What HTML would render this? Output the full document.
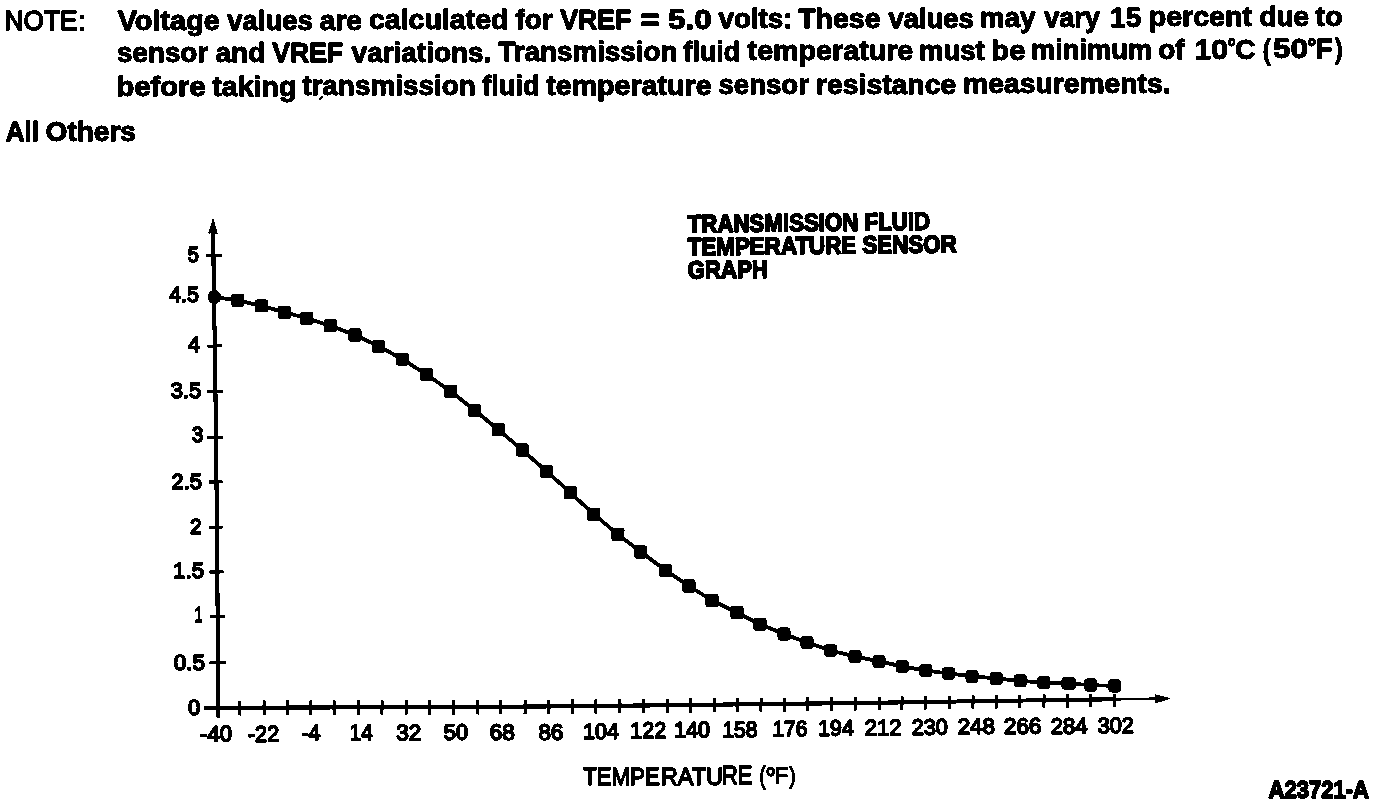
<!DOCTYPE html>
<html lang="en"><head><meta charset="utf-8"><title>Transmission Fluid Temperature Sensor Graph</title>
<style>html,body{margin:0;padding:0;background:#fff}body{width:1376px;height:806px;overflow:hidden}svg{display:block}text{font-family:"Liberation Sans",sans-serif;fill:#000;stroke:#000;stroke-linejoin:round}.b{font-weight:bold}</style></head><body>
<svg width="1376" height="806" viewBox="0 0 1376 806">
<defs><filter id="bw" x="0" y="0" width="1376" height="806" filterUnits="userSpaceOnUse" color-interpolation-filters="sRGB"><feComponentTransfer><feFuncR type="discrete" tableValues="0 0 0 1 1"/><feFuncG type="discrete" tableValues="0 0 0 1 1"/><feFuncB type="discrete" tableValues="0 0 0 1 1"/></feComponentTransfer></filter></defs>
<g filter="url(#bw)">
<rect width="1376" height="806" fill="#fff"/>
<text stroke-width="1.3"><tspan x="4.50" y="30.35" font-size="28.55" textLength="73.03" lengthAdjust="spacingAndGlyphs">NOTE</tspan><tspan x="78.13" y="30.35" font-size="25.85" textLength="8.03" lengthAdjust="spacingAndGlyphs">:</tspan></text>
<text class="b" stroke-width="1.0"><tspan x="117.72" y="29.99" font-size="28.12" textLength="102.10" lengthAdjust="spacingAndGlyphs">Voltage</tspan> <tspan x="227.35" y="29.78" font-size="28.12" textLength="85.35" lengthAdjust="spacingAndGlyphs">values</tspan> <tspan x="319.76" y="29.66" font-size="28.12" textLength="42.27" lengthAdjust="spacingAndGlyphs">are</tspan> <tspan x="368.97" y="29.48" font-size="28.12" textLength="139.52" lengthAdjust="spacingAndGlyphs">calculated</tspan> <tspan x="515.58" y="29.20" font-size="28.12" textLength="37.19" lengthAdjust="spacingAndGlyphs">for</tspan> <tspan x="560.21" y="29.02" font-size="28.12" textLength="71.06" lengthAdjust="spacingAndGlyphs">VREF</tspan> <tspan x="640.26" y="28.80" font-size="28.12" textLength="19.55" lengthAdjust="spacingAndGlyphs">=</tspan> <tspan x="668.12" y="28.64" font-size="28.12" textLength="43.69" lengthAdjust="spacingAndGlyphs">5.0</tspan> <tspan x="718.60" y="28.38" font-size="28.12" textLength="73.84" lengthAdjust="spacingAndGlyphs">volts:</tspan> <tspan x="798.22" y="28.04" font-size="28.12" textLength="82.28" lengthAdjust="spacingAndGlyphs">These</tspan> <tspan x="888.45" y="27.66" font-size="28.12" textLength="85.35" lengthAdjust="spacingAndGlyphs">values</tspan> <tspan x="979.68" y="27.31" font-size="28.12" textLength="55.75" lengthAdjust="spacingAndGlyphs">may</tspan> <tspan x="1044.25" y="27.01" font-size="28.12" textLength="55.58" lengthAdjust="spacingAndGlyphs">vary</tspan> <tspan x="1110.08" y="26.76" font-size="28.12" textLength="31.19" lengthAdjust="spacingAndGlyphs">15</tspan> <tspan x="1148.75" y="26.41" font-size="28.12" textLength="103.20" lengthAdjust="spacingAndGlyphs">percent</tspan> <tspan x="1259.38" y="26.03" font-size="28.12" textLength="49.58" lengthAdjust="spacingAndGlyphs">due</tspan> <tspan x="1315.47" y="25.82" font-size="28.12" textLength="27.23" lengthAdjust="spacingAndGlyphs">to</tspan></text>
<text class="b" stroke-width="1.0"><tspan x="117.12" y="62.42" font-size="28.12" textLength="91.03" lengthAdjust="spacingAndGlyphs">sensor</tspan> <tspan x="215.41" y="62.26" font-size="28.12" textLength="49.90" lengthAdjust="spacingAndGlyphs">and</tspan> <tspan x="272.21" y="62.13" font-size="28.12" textLength="70.91" lengthAdjust="spacingAndGlyphs">VREF</tspan> <tspan x="351.61" y="61.94" font-size="28.12" textLength="139.77" lengthAdjust="spacingAndGlyphs">variations.</tspan> <tspan x="498.22" y="61.46" font-size="28.12" textLength="179.26" lengthAdjust="spacingAndGlyphs">Transmission</tspan> <tspan x="683.47" y="60.98" font-size="28.12" textLength="56.81" lengthAdjust="spacingAndGlyphs">fluid</tspan> <tspan x="747.62" y="60.49" font-size="28.12" textLength="165.62" lengthAdjust="spacingAndGlyphs">temperature</tspan> <tspan x="918.95" y="59.99" font-size="28.12" textLength="65.70" lengthAdjust="spacingAndGlyphs">must</tspan> <tspan x="991.38" y="59.73" font-size="28.12" textLength="33.93" lengthAdjust="spacingAndGlyphs">be</tspan> <tspan x="1031.01" y="59.34" font-size="28.12" textLength="121.01" lengthAdjust="spacingAndGlyphs">minimum</tspan> <tspan x="1158.28" y="58.97" font-size="28.12" textLength="26.29" lengthAdjust="spacingAndGlyphs">of</tspan> <tspan x="1194.58" y="58.78" font-size="28.12" textLength="33.35" lengthAdjust="spacingAndGlyphs">10</tspan><tspan x="1227.40" y="55.36" font-size="23.55" textLength="8.40" lengthAdjust="spacingAndGlyphs">°</tspan><tspan x="1235.28" y="58.63" font-size="28.12" textLength="20.24" lengthAdjust="spacingAndGlyphs">C</tspan> <tspan x="1262.63" y="58.53" font-size="28.12" textLength="7.92" lengthAdjust="spacingAndGlyphs">(</tspan><tspan x="1273.02" y="58.42" font-size="28.12" textLength="34.96" lengthAdjust="spacingAndGlyphs">50</tspan><tspan x="1307.36" y="54.98" font-size="23.55" textLength="9.08" lengthAdjust="spacingAndGlyphs">°</tspan><tspan x="1315.79" y="58.26" font-size="28.12" textLength="16.91" lengthAdjust="spacingAndGlyphs">F</tspan><tspan x="1334.90" y="58.20" font-size="28.12" textLength="7.70" lengthAdjust="spacingAndGlyphs">)</tspan></text>
<text class="b" stroke-width="1.0"><tspan x="116.62" y="95.91" font-size="28.12" textLength="89.01" lengthAdjust="spacingAndGlyphs">before</tspan> <tspan x="212.22" y="95.71" font-size="28.12" textLength="84.23" lengthAdjust="spacingAndGlyphs">taking</tspan> <tspan x="302.22" y="95.47" font-size="28.12" textLength="173.54" lengthAdjust="spacingAndGlyphs">transmission</tspan> <tspan x="482.18" y="95.17" font-size="28.12" textLength="57.62" lengthAdjust="spacingAndGlyphs">fluid</tspan> <tspan x="546.22" y="94.79" font-size="28.12" textLength="165.37" lengthAdjust="spacingAndGlyphs">temperature</tspan> <tspan x="718.53" y="94.24" font-size="28.12" textLength="90.38" lengthAdjust="spacingAndGlyphs">sensor</tspan> <tspan x="816.06" y="93.74" font-size="28.12" textLength="140.11" lengthAdjust="spacingAndGlyphs">resistance</tspan> <tspan x="963.06" y="92.94" font-size="28.12" textLength="207.58" lengthAdjust="spacingAndGlyphs">measurements.</tspan></text>
<text class="b" stroke-width="1.0"><tspan x="5.81" y="140.50" font-size="28.55" textLength="33.23" lengthAdjust="spacingAndGlyphs">All</tspan> <tspan x="45.57" y="140.50" font-size="28.55" textLength="90.40" lengthAdjust="spacingAndGlyphs">Others</tspan></text>
<path d="M319.4 99.6 L322.6 96.6" stroke="#000" stroke-width="1.5" stroke-linecap="round" fill="none"/>
<text class="b" transform="translate(687.75 232.40) rotate(-0.65) scale(0.8990 1)" font-size="24.78" stroke-width="1.6">TRANSMISSION FLUID</text>
<text class="b" transform="translate(687.76 255.30) rotate(-0.65) scale(0.9133 1)" font-size="24.49" stroke-width="1.6">TEMPERATURE SENSOR</text>
<text class="b" transform="translate(687.83 278.50) rotate(-0.65) scale(0.8959 1)" font-size="24.78" stroke-width="1.6">GRAPH</text>
<text stroke-width="1.3"><tspan x="583.25" y="785.05" font-size="24.35" textLength="76.45" lengthAdjust="spacingAndGlyphs">TEMPE</tspan><tspan x="660.63" y="784.65" font-size="24.64" textLength="62.48" lengthAdjust="spacingAndGlyphs">RATU</tspan><tspan x="721.92" y="784.15" font-size="25.07" textLength="30.38" lengthAdjust="spacingAndGlyphs">RE</tspan> <tspan x="759.61" y="783.95" font-size="24.20" textLength="5.96" lengthAdjust="spacingAndGlyphs">(</tspan><tspan x="765.15" y="788.10" font-size="30.36" textLength="10.90" lengthAdjust="spacingAndGlyphs">°</tspan><tspan x="774.78" y="783.35" font-size="22.90" textLength="13.29" lengthAdjust="spacingAndGlyphs">F</tspan><tspan x="789.55" y="782.70" font-size="22.14" textLength="6.06" lengthAdjust="spacingAndGlyphs">)</tspan></text>
<text class="b" transform="translate(1268.59 798.20) scale(0.9257 1)" font-size="23.77" stroke-width="1.6">A23721-A</text>
<g stroke="#000" fill="none">
<path d="M213.2 232 L213.9 300 L214.9 346 L216 440 L217 530 L217.8 640 L218.2 717.5" stroke-width="3.9"/>
<path d="M204.4 707.9 L362 707.3 L534 706.5 L620 705.7 L706 704.7 L792 703.8 L878 702.7 L964 701.4 L1050 700.1 L1114.4 699.3" stroke-width="3.9"/>
<path d="M1112 699.3 L1158 698.7" stroke-width="2.6"/>
<line x1="206" y1="255.70" x2="221.9" y2="255.50" stroke-width="2.8"/>
<line x1="207.25" y1="346.10" x2="221.9" y2="345.90" stroke-width="2.8"/>
<line x1="207.25" y1="391.60" x2="222.75" y2="391.40" stroke-width="2.8"/>
<line x1="207.25" y1="437.60" x2="222.75" y2="437.40" stroke-width="2.8"/>
<line x1="209.1" y1="482.00" x2="222.75" y2="481.80" stroke-width="2.8"/>
<line x1="209.2" y1="527.35" x2="222.75" y2="527.15" stroke-width="2.8"/>
<line x1="209.4" y1="572.00" x2="223.5" y2="571.80" stroke-width="2.8"/>
<line x1="210.25" y1="616.60" x2="225" y2="616.40" stroke-width="2.8"/>
<line x1="209.4" y1="662.85" x2="226" y2="662.65" stroke-width="2.8"/>
<line x1="239.70" y1="700.61" x2="239.50" y2="715.37" stroke-width="2.8"/>
<line x1="264.20" y1="700.56" x2="264.00" y2="715.27" stroke-width="2.8"/>
<line x1="287.50" y1="700.51" x2="287.30" y2="715.18" stroke-width="2.8"/>
<line x1="311.00" y1="700.46" x2="310.80" y2="715.09" stroke-width="2.8"/>
<line x1="334.20" y1="700.41" x2="334.00" y2="715.01" stroke-width="2.8"/>
<line x1="358.60" y1="700.36" x2="358.40" y2="714.91" stroke-width="2.8"/>
<line x1="382.10" y1="700.30" x2="381.90" y2="714.81" stroke-width="2.8"/>
<line x1="406.20" y1="700.23" x2="406.00" y2="714.69" stroke-width="2.8"/>
<line x1="429.60" y1="700.16" x2="429.40" y2="714.59" stroke-width="2.8"/>
<line x1="453.60" y1="700.09" x2="453.40" y2="714.47" stroke-width="2.8"/>
<line x1="477.70" y1="700.03" x2="477.50" y2="714.36" stroke-width="2.8"/>
<line x1="500.60" y1="699.96" x2="500.40" y2="714.26" stroke-width="2.8"/>
<line x1="525.20" y1="699.89" x2="525.00" y2="714.14" stroke-width="2.8"/>
<line x1="548.85" y1="699.75" x2="548.65" y2="713.96" stroke-width="2.8"/>
<line x1="572.60" y1="699.57" x2="572.40" y2="713.74" stroke-width="2.8"/>
<line x1="596.00" y1="699.40" x2="595.80" y2="713.52" stroke-width="2.8"/>
<line x1="619.85" y1="699.22" x2="619.65" y2="713.30" stroke-width="2.8"/>
<line x1="643.60" y1="698.98" x2="643.40" y2="713.03" stroke-width="2.8"/>
<line x1="667.60" y1="698.75" x2="667.40" y2="712.75" stroke-width="2.8"/>
<line x1="690.60" y1="698.52" x2="690.40" y2="712.48" stroke-width="2.8"/>
<line x1="714.60" y1="698.30" x2="714.40" y2="712.21" stroke-width="2.8"/>
<line x1="737.35" y1="698.10" x2="737.15" y2="711.97" stroke-width="2.8"/>
<line x1="761.10" y1="697.89" x2="760.90" y2="711.72" stroke-width="2.8"/>
<line x1="784.60" y1="697.69" x2="784.40" y2="711.48" stroke-width="2.8"/>
<line x1="807.60" y1="697.45" x2="807.40" y2="711.20" stroke-width="2.8"/>
<line x1="831.70" y1="697.19" x2="831.50" y2="710.89" stroke-width="2.8"/>
<line x1="855.50" y1="696.92" x2="855.30" y2="710.59" stroke-width="2.8"/>
<line x1="879.35" y1="696.66" x2="879.15" y2="710.28" stroke-width="2.8"/>
<line x1="902.10" y1="696.35" x2="901.90" y2="709.94" stroke-width="2.8"/>
<line x1="925.35" y1="696.04" x2="925.15" y2="709.59" stroke-width="2.8"/>
<line x1="949.35" y1="695.72" x2="949.15" y2="709.22" stroke-width="2.8"/>
<line x1="973.10" y1="695.41" x2="972.90" y2="708.86" stroke-width="2.8"/>
<line x1="996.20" y1="695.10" x2="996.00" y2="708.51" stroke-width="2.8"/>
<line x1="1019.60" y1="694.79" x2="1019.40" y2="708.16" stroke-width="2.8"/>
<line x1="1044.10" y1="694.46" x2="1043.90" y2="707.79" stroke-width="2.8"/>
<line x1="1067.60" y1="694.19" x2="1067.40" y2="707.48" stroke-width="2.8"/>
<line x1="1090.70" y1="693.95" x2="1090.50" y2="707.20" stroke-width="2.8"/>
<line x1="1114.50" y1="693.70" x2="1114.30" y2="706.90" stroke-width="2.8"/>
<path d="M214.4 297.0 L237.8 300.3 L261.4 305.9 L284.4 312.2 L306.8 318.2 L330.5 325.8 L355.0 335.0 L378.5 346.2 L402.3 359.1 L426.5 374.5 L450.6 391.2 L474.5 410.2 L498.5 429.8 L522.2 450.0 L546.5 471.2 L570.5 492.8 L593.8 514.2 L617.9 534.4 L640.8 552.0 L665.5 570.2 L689.0 586.0 L712.0 600.5 L737.0 612.5 L760.0 624.2 L784.0 634.0 L807.0 642.5 L830.5 650.5 L855.0 656.5 L879.0 661.4 L902.2 666.4 L925.6 670.5 L948.5 673.5 L972.0 676.2 L996.2 678.5 L1020.2 680.8 L1043.8 682.5 L1068.7 683.7 L1090.6 685.0 L1114.6 686.0" stroke-width="3.7" stroke-linejoin="round"/>
</g>
<path d="M213.0 217.8 L211.7 222.5 L208.2 233.4 L211.4 233.2 L211.4 236 L215 236 L215 233.4 L217.8 233.9 L214.5 222.5 Z" fill="#000"/>
<path d="M1171.2 698.5 L1158 695 L1154.6 694.3 L1154.8 703.6 L1158 702.6 Z" fill="#000"/>
<ellipse cx="214.4" cy="297.0" rx="6.6" ry="7" fill="#000"/>
<rect x="231.35" y="293.85" width="12.9" height="12.9" rx="2.2" fill="#000"/>
<rect x="254.95" y="299.45" width="12.9" height="12.9" rx="2.2" fill="#000"/>
<rect x="277.95" y="305.80" width="12.9" height="12.9" rx="2.2" fill="#000"/>
<rect x="300.30" y="311.80" width="12.9" height="12.9" rx="2.2" fill="#000"/>
<rect x="324.05" y="319.30" width="12.9" height="12.9" rx="2.2" fill="#000"/>
<rect x="348.55" y="328.55" width="12.9" height="12.9" rx="2.2" fill="#000"/>
<rect x="372.05" y="339.80" width="12.9" height="12.9" rx="2.2" fill="#000"/>
<rect x="395.85" y="352.65" width="12.9" height="12.9" rx="2.2" fill="#000"/>
<rect x="420.05" y="368.05" width="12.9" height="12.9" rx="2.2" fill="#000"/>
<rect x="444.15" y="384.80" width="12.9" height="12.9" rx="2.2" fill="#000"/>
<rect x="468.05" y="403.80" width="12.9" height="12.9" rx="2.2" fill="#000"/>
<rect x="492.05" y="423.30" width="12.9" height="12.9" rx="2.2" fill="#000"/>
<rect x="515.80" y="443.55" width="12.9" height="12.9" rx="2.2" fill="#000"/>
<rect x="540.05" y="464.80" width="12.9" height="12.9" rx="2.2" fill="#000"/>
<rect x="564.05" y="486.30" width="12.9" height="12.9" rx="2.2" fill="#000"/>
<rect x="587.30" y="507.80" width="12.9" height="12.9" rx="2.2" fill="#000"/>
<rect x="611.45" y="527.95" width="12.9" height="12.9" rx="2.2" fill="#000"/>
<rect x="634.30" y="545.55" width="12.9" height="12.9" rx="2.2" fill="#000"/>
<rect x="659.05" y="563.80" width="12.9" height="12.9" rx="2.2" fill="#000"/>
<rect x="682.55" y="579.55" width="12.9" height="12.9" rx="2.2" fill="#000"/>
<rect x="705.55" y="594.05" width="12.9" height="12.9" rx="2.2" fill="#000"/>
<rect x="730.55" y="606.05" width="12.9" height="12.9" rx="2.2" fill="#000"/>
<rect x="753.55" y="617.80" width="12.9" height="12.9" rx="2.2" fill="#000"/>
<rect x="777.55" y="627.55" width="12.9" height="12.9" rx="3.6" fill="#000"/>
<rect x="800.55" y="636.05" width="12.9" height="12.9" rx="3.6" fill="#000"/>
<rect x="824.05" y="644.05" width="12.9" height="12.9" rx="3.6" fill="#000"/>
<rect x="848.55" y="650.05" width="12.9" height="12.9" rx="3.6" fill="#000"/>
<rect x="872.55" y="654.95" width="12.9" height="12.9" rx="3.6" fill="#000"/>
<rect x="895.80" y="659.95" width="12.9" height="12.9" rx="3.6" fill="#000"/>
<rect x="919.15" y="664.05" width="12.9" height="12.9" rx="3.6" fill="#000"/>
<rect x="942.05" y="667.05" width="12.9" height="12.9" rx="3.6" fill="#000"/>
<rect x="965.55" y="669.80" width="12.9" height="12.9" rx="3.6" fill="#000"/>
<rect x="989.80" y="672.05" width="12.9" height="12.9" rx="3.6" fill="#000"/>
<rect x="1013.80" y="674.30" width="12.9" height="12.9" rx="3.6" fill="#000"/>
<rect x="1037.30" y="676.05" width="12.9" height="12.9" rx="3.6" fill="#000"/>
<rect x="1061.40" y="676.70" width="14.6" height="13.4" rx="4.2" fill="#000"/>
<rect x="1084.00" y="678.30" width="13.2" height="13.4" rx="4.2" fill="#000"/>
<rect x="1108.00" y="679.10" width="13.2" height="13.4" rx="4.2" fill="#000"/>
<text transform="translate(187.80 261.88) scale(0.9237 1)" font-size="21.57" stroke-width="1.5">5</text>
<text transform="translate(169.18 301.52) scale(0.9501 1)" font-size="22.50" stroke-width="1.5">4.5</text>
<text transform="translate(188.10 352.10) scale(0.9725 1)" font-size="21.88" stroke-width="1.5">4</text>
<text transform="translate(170.46 398.18) scale(1.0060 1)" font-size="22.11" stroke-width="1.5">3.5</text>
<text transform="translate(191.79 441.68) scale(0.9632 1)" font-size="21.55" stroke-width="1.5">3</text>
<text transform="translate(171.56 488.78) scale(1.0040 1)" font-size="21.83" stroke-width="1.5">2.5</text>
<text transform="translate(189.96 533.75) scale(0.9460 1)" font-size="22.14" stroke-width="1.5">2</text>
<text transform="translate(173.10 577.78) scale(1.0344 1)" font-size="21.57" stroke-width="1.5">1.5</text>
<text transform="translate(194.42 622.10) scale(0.6508 1)" font-size="21.88" stroke-width="1.5">1</text>
<text transform="translate(173.87 669.78) scale(1.0237 1)" font-size="21.97" stroke-width="1.5">0.5</text>
<text transform="translate(187.98 714.78) scale(1.0026 1)" font-size="21.83" stroke-width="1.5">0</text>
<text transform="translate(200.00 741.53) rotate(-0.5) scale(1.0024 1)" font-size="22.11" stroke-width="1.5">-40</text>
<text transform="translate(247.85 741.75) rotate(-0.5) scale(0.9724 1)" font-size="22.43" stroke-width="1.5">-22</text>
<text transform="translate(301.85 740.40) rotate(-0.5) scale(0.9230 1)" font-size="22.75" stroke-width="1.5">-4</text>
<text transform="translate(349.74 740.30) rotate(-0.5) scale(0.9028 1)" font-size="22.75" stroke-width="1.5">14</text>
<text transform="translate(396.26 740.28) rotate(-0.5) scale(1.0227 1)" font-size="22.11" stroke-width="1.5">32</text>
<text transform="translate(443.77 739.78) rotate(-0.5) scale(0.9927 1)" font-size="22.11" stroke-width="1.5">50</text>
<text transform="translate(489.74 739.78) rotate(-0.5) scale(1.0247 1)" font-size="22.11" stroke-width="1.5">68</text>
<text transform="translate(538.50 739.78) rotate(-0.5) scale(1.0081 1)" font-size="22.11" stroke-width="1.5">86</text>
<text transform="translate(583.12 739.03) rotate(-0.5) scale(0.9723 1)" font-size="22.11" stroke-width="1.5">104</text>
<text transform="translate(630.35 738.20) rotate(-0.5) scale(0.9614 1)" font-size="22.43" stroke-width="1.5">122</text>
<text transform="translate(674.12 737.48) rotate(-0.5) scale(0.9714 1)" font-size="22.11" stroke-width="1.5">140</text>
<text transform="translate(722.39 737.28) rotate(-0.5) scale(0.9504 1)" font-size="22.11" stroke-width="1.5">158</text>
<text transform="translate(772.39 736.53) rotate(-0.5) scale(0.9463 1)" font-size="22.11" stroke-width="1.5">176</text>
<text transform="translate(818.23 735.68) rotate(-0.5) scale(0.9626 1)" font-size="22.11" stroke-width="1.5">194</text>
<text transform="translate(864.63 735.50) rotate(-0.5) scale(0.9863 1)" font-size="22.43" stroke-width="1.5">212</text>
<text transform="translate(911.65 734.78) rotate(-0.5) scale(0.9841 1)" font-size="22.11" stroke-width="1.5">230</text>
<text transform="translate(957.64 733.98) rotate(-0.5) scale(1.0158 1)" font-size="22.11" stroke-width="1.5">248</text>
<text transform="translate(1003.89 733.78) rotate(-0.5) scale(1.0175 1)" font-size="22.11" stroke-width="1.5">266</text>
<text transform="translate(1050.64 733.78) rotate(-0.5) scale(0.9987 1)" font-size="22.11" stroke-width="1.5">284</text>
<text transform="translate(1097.77 733.18) rotate(-0.5) scale(0.9800 1)" font-size="22.11" stroke-width="1.5">302</text>
</g>
</svg></body></html>
